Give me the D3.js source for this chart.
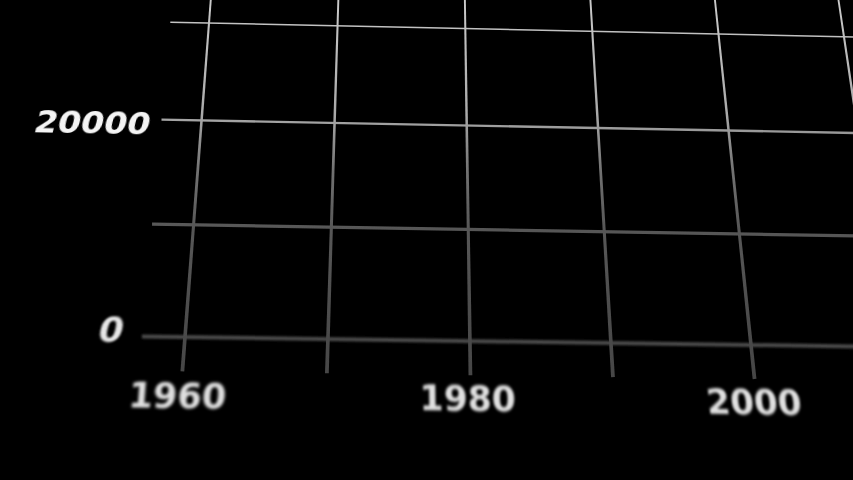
<!DOCTYPE html>
<html>
<head>
<meta charset="utf-8">
<script src="https://cdn.jsdelivr.net/npm/d3@7"></script>
<style>
  html, body { margin: 0; padding: 0; background: #000; }
  svg { display: block; }
</style>
</head>
<body>
<svg id="chart" width="853" height="480"></svg>
<script>
// ---- data ----
const gridYears = [1960, 1970, 1980, 1990, 2000, 2010];
const gridValues = [0, 10000, 20000, 30000];
const xTickLabels = [1960, 1980, 2000];
const yTickLabels = [0, 20000];

// ---- layout ----
const W = 853, H = 480;
const svg = d3.select("#chart");
svg.append("rect").attr("width", W).attr("height", H).attr("fill", "#000");

// flat (unprojected) chart scales
const x = d3.scaleLinear().domain([1960, 2000]).range([0, 566]);
const y = d3.scaleLinear().domain([0, 30000]).range([0, -349]);

// perspective: homography from flat plane to screen
const src = [[x(1960), y(0)], [x(2000), y(0)], [x(1960), y(30000)], [x(2000), y(30000)]];
const dst = [[185, 337], [751, 345], [209, 23], [718.5, 34]];

function solve(A, b) {
  const n = b.length;
  const M = A.map((r, i) => r.concat([b[i]]));
  for (let c = 0; c < n; c++) {
    let p = c;
    for (let r = c + 1; r < n; r++) if (Math.abs(M[r][c]) > Math.abs(M[p][c])) p = r;
    [M[c], M[p]] = [M[p], M[c]];
    for (let r = 0; r < n; r++) {
      if (r === c) continue;
      const f = M[r][c] / M[c][c];
      for (let k = c; k <= n; k++) M[r][k] -= f * M[c][k];
    }
  }
  return M.map((r, i) => r[n] / r[i]);
}
const A = [], bv = [];
src.forEach(([sx, sy], i) => {
  const [u, v] = dst[i];
  A.push([sx, sy, 1, 0, 0, 0, -sx * u, -sy * u]); bv.push(u);
  A.push([0, 0, 0, sx, sy, 1, -sx * v, -sy * v]); bv.push(v);
});
const [ha, hb, hc, hd, he, hf, hg, hh] = solve(A, bv);
function P(px, py) {
  const w = hg * px + hh * py + 1;
  return [(ha * px + hb * py + hc) / w, (hd * px + he * py + hf) / w];
}
function localMatrix(px, py) {
  const o = P(px, py), ex = P(px + 1, py), ey = P(px, py + 1);
  return `matrix(${ex[0]-o[0]},${ex[1]-o[1]},${ey[0]-o[0]},${ey[1]-o[1]},${o[0]},${o[1]})`;
}

// ---- defs ----
const defs = svg.append("defs");
const grad = defs.append("linearGradient").attr("id", "depth")
  .attr("gradientUnits", "userSpaceOnUse").attr("x1", 0).attr("y1", 0).attr("x2", 0).attr("y2", 380);
[[0, "#cacaca"], [0.3, "#aaaaaa"], [0.45, "#727272"], [0.6, "#575757"], [1, "#454545"]].forEach(([o, c]) =>
  grad.append("stop").attr("offset", o).attr("stop-color", c));
function blurFilter(id, sd) {
  defs.append("filter").attr("id", id).attr("x", "-20%").attr("y", "-50%").attr("width", "140%").attr("height", "200%")
    .append("feGaussianBlur").attr("stdDeviation", sd);
}
const blurOf = d3.scaleLinear().domain([30000, 0]).range([0.15, 0.8]);
gridValues.forEach(v => blurFilter("bv" + v, blurOf(v)));
blurFilter("bvert", 0.45);
blurFilter("bx", 1.3);
blurFilter("by0", 0.9);
blurFilter("by20000", 0.45);

// ---- grid: horizontal lines ----
const widthOf = d3.scaleLinear().domain([30000, 0]).range([1.5, 4]);
const hG = svg.append("g");
gridValues.forEach(v => {
  const a = P(x(1957), y(v)), b = P(x(2030), y(v));
  hG.append("line")
    .attr("x1", a[0]).attr("y1", a[1]).attr("x2", b[0]).attr("y2", b[1])
    .attr("stroke", "url(#depth)").attr("stroke-width", widthOf(v))
    .attr("filter", `url(#bv${v})`);
});

// ---- grid: vertical lines (trapezoids, wider and softer near the viewer) ----
const vG = svg.append("g");
gridYears.forEach(yr => {
  const t = P(x(yr), y(42000)), b = P(x(yr), y(0) + 34);
  const dx = b[0] - t[0], dy = b[1] - t[1], L = Math.hypot(dx, dy);
  const nx = -dy / L, ny = dx / L;
  const wt = 0.75, wb = 1.9;
  const pts = [[t[0] + nx * wt, t[1] + ny * wt], [b[0] + nx * wb, b[1] + ny * wb],
               [b[0] - nx * wb, b[1] - ny * wb], [t[0] - nx * wt, t[1] - ny * wt]];
  vG.append("path").attr("d", d3.line()(pts) + "Z").attr("fill", "url(#depth)")
    .attr("filter", "url(#bvert)");
});

// ---- labels ----
const font = "'DejaVu Sans', Verdana, sans-serif";
xTickLabels.forEach(yr => {
  svg.append("text")
    .attr("transform", localMatrix(x(yr) - 3, y(0) + 57))
    .attr("text-anchor", "middle").attr("dominant-baseline", "central")
    .attr("font-family", font).attr("font-weight", "bold").attr("font-size", 34)
    .attr("fill", "#e0e0e0").attr("filter", "url(#bx)")
    .text(yr);
});
const labelShift = d3.scaleLinear().domain([0, 20000]).range([-7, 5]);
const labelX = d3.scaleLinear().domain([0, 20000]).range([1955.7, 1956.2]);
yTickLabels.forEach(v => {
  svg.append("text")
    .attr("transform", localMatrix(x(labelX(v)), y(v) + labelShift(v)) + " skewX(-8)")
    .attr("text-anchor", "end").attr("dominant-baseline", "central")
    .attr("font-family", font).attr("font-weight", "bold").attr("font-size", 35)
    .attr("fill", v === 0 ? "#e6e6e6" : "#f4f4f4").attr("filter", `url(#by${v})`)
    .text(v);
});
</script>
</body>
</html>
